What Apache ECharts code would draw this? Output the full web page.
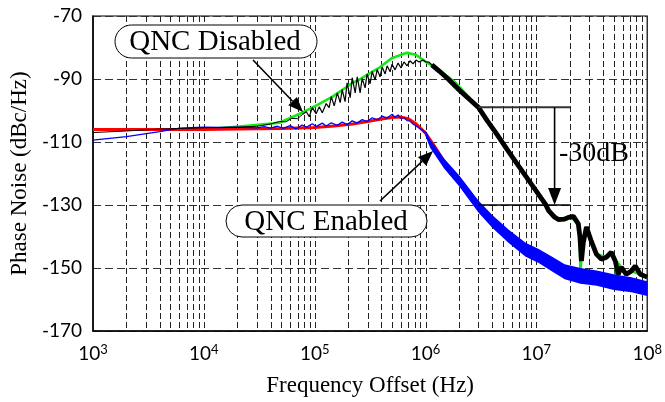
<!DOCTYPE html>
<html>
<head>
<meta charset="utf-8">
<script src="https://cdn.jsdelivr.net/npm/echarts@6/dist/echarts.min.js"></script>
<style>
html, body { margin: 0; padding: 0; background: #fff; }
#chart { width: 665px; height: 402px; }
</style>
</head>
<body>
<div id="chart"></div>
<script>
// QNC enabled, smooth model (red)
const redF  = [1e3, 3e3, 1e4, 2e4, 5e4, 1e5, 1.5e5, 2.2e5, 3e5, 4e5, 5e5, 6e5, 7e5, 8.2e5, 1e6, 1.2e6, 1.5e6, 2e6, 3e6];
const redDb = [-106, -106, -106, -105.9, -105.7, -105.4, -104.9, -104.3, -103.5, -102.7, -102.2, -102.1, -102.6, -104.2, -107.2, -111.2, -116.6, -122.4, -130.5];

// QNC disabled, smooth model (green)
const greenF  = [1e3, 1e4, 2.1e4, 4.8e4, 7.7e4, 1.05e5, 1.45e5, 2.2e5, 2.5e5, 3.8e5, 5e5, 6.8e5, 8.2e5, 1e6, 1.32e6, 1.87e6, 3e6, 4.3e6, 6.9e6, 1.05e7, 1.29e7, 1.6e7, 2e7, 2.35e7, 2.45e7, 2.5e7, 2.56e7, 2.62e7, 2.83e7, 3.5e7, 4.3e7, 4.8e7, 5.15e7, 5.25e7, 5.35e7, 6.5e7, 7.2e7, 1e8];
const greenDb = [-106, -106, -105.1, -103.9, -100.7, -98.3, -95.6, -91.2, -90.3, -86.5, -83.3, -81.7, -82.3, -84.5, -87.1, -91.2, -99, -107, -117.6, -126.7, -131.8, -134.4, -133.8, -135.5, -138, -151.5, -151.5, -141, -137, -145.6, -146.6, -145, -147.8, -153, -148, -152, -151, -152.9];

// QNC enabled, measured (blue): thin part, then noise band
const blueF  = [1e3, 2e3, 4e3, 6e3, 1e4, 1.4e4, 2e4, 3e4, 3.5e4, 4e4, 4.6e4, 5.2e4, 6e4, 6.8e4, 7.7e4, 8.4e4, 9.5e4, 1.03e5, 1.17e5, 1.27e5, 1.41e5, 1.6e5, 1.77e5, 1.96e5, 2.18e5, 2.42e5, 2.68e5, 2.97e5, 3.3e5, 3.66e5, 4.06e5, 4.5e5, 5e5, 5.3e5, 5.65e5, 6e5, 6.4e5, 6.8e5, 7.2e5, 7.7e5, 8.2e5, 8.7e5, 9.5e5, 1e6];
const blueDb = [-109.4, -108.3, -106.7, -105.6, -105.3, -105.4, -105.3, -105.5, -105.1, -105.6, -105, -105.7, -104.8, -105.9, -104.6, -105.3, -104.2, -105.1, -104, -104.9, -103.9, -104.7, -103.7, -104.5, -103.3, -104, -102.9, -103.5, -102.3, -103, -101.8, -102.4, -101.2, -102.2, -101.4, -102.5, -102.2, -103.2, -103.3, -104.3, -104.9, -105.5, -106.3, -107.2];
const blueBandF  = [1.0e6, 1.1e6, 1.47e6, 2.0e6, 3.0e6, 4.0e6, 5.6e6, 8.0e6, 1.05e7, 1.4e7, 1.8e7, 2.5e7, 3.5e7, 5e7, 7.2e7, 1e8];
const blueBandHi = [-106.2, -109.2, -115.2, -120.5, -128.6, -133.2, -137.8, -142.0, -144.0, -146.5, -148.8, -150.0, -150.8, -152.0, -152.9, -154.2];
const blueBandLo = [-108.2, -111.8, -118.4, -124.0, -132.4, -137.2, -142.0, -146.4, -148.4, -151.2, -153.6, -155.0, -155.6, -157.0, -157.7, -158.9];

// QNC disabled, measured (black): thin start, spur region, noisy tail
const blackF1  = [1e3, 2e3, 4e3, 1e4, 2e4, 3e4, 4e4, 4.8e4, 5.5e4, 6.2e4, 7e4, 7.73e4];
const blackDb1 = [-107, -106.5, -105.9, -105.5, -105.3, -105, -104.3, -103.5, -103.6, -102.5, -102.6, -101.3];
const blackF2  = [7.73e4, 8.4e4, 8.94e4, 9.51e4, 1.03e5, 1.10e5, 1.17e5, 1.27e5, 1.35e5, 1.41e5, 1.50e5, 1.60e5, 1.70e5, 1.77e5, 1.88e5, 1.96e5, 2.09e5, 2.18e5, 2.32e5, 2.42e5, 2.57e5, 2.68e5, 2.85e5, 2.97e5, 3.16e5, 3.30e5, 3.51e5, 3.66e5, 3.89e5, 4.06e5, 4.32e5, 4.50e5, 4.79e5, 4.99e5, 5.31e5, 5.65e5, 6.01e5, 6.40e5, 6.81e5, 7.24e5, 7.71e5, 8.20e5, 8.73e5, 9.48e5, 1.01e6, 1.07e6, 1.14e6, 1.32e6];
const blackDb2 = [-101.3, -100.4, -102.0, -99.1, -101.0, -98.8, -100.7, -97.8, -99.1, -95.6, -98.5, -94.4, -97.5, -93.4, -97.2, -91.2, -95.9, -89.6, -94.4, -89.3, -94.4, -89.8, -92.8, -88.4, -91.5, -87.6, -90.3, -87.0, -89.3, -86.2, -88.4, -85.8, -87.7, -85.3, -87.1, -84.9, -86.5, -84.6, -85.8, -84.2, -85.2, -84.0, -84.6, -84.0, -84.6, -84.6, -85.5, -87.4];
const blackF3  = [1.14e6, 1.32e6, 1.6e6, 2.0e6, 2.5e6, 3.0e6, 3.6e6, 4.3e6, 5.5e6, 6.9e6, 8.5e6, 1.05e7, 1.21e7, 1.29e7, 1.45e7, 1.58e7, 1.8e7, 1.95e7, 2.16e7, 2.39e7, 2.47e7, 2.55e7, 2.65e7, 2.83e7, 3.13e7, 3.48e7, 3.85e7, 4.28e7, 4.74e7, 5.15e7, 5.48e7, 5.83e7, 6.47e7, 7.18e7, 7.8e7, 8.65e7, 1e8];
const blackDb3 = [-85.5, -87.4, -90, -93.4, -96.5, -99, -103.2, -107, -112.6, -117.6, -122.1, -126.7, -129.8, -131.8, -133.8, -134.6, -134.5, -133.9, -133.6, -136, -140, -147.8, -142, -137, -141.5, -145.6, -147.2, -146.6, -145, -147.8, -152, -149.7, -152, -151, -149.4, -152, -152.9];

// minor grid positions (2..9 x each decade, plus decades)
const gridF = [];
for (let d = 3; d < 8; d++) {
  for (let m = 1; m < 10; m++) {
    if (d === 3 && m === 1) continue;
    gridF.push(m * Math.pow(10, d));
  }
}

const pairs = (fs, vs) => fs.map((f, i) => [f, vs[i]]);

function lineSeries(fs, vs, color, width, z) {
  return {
    type: 'line',
    data: pairs(fs, vs),
    showSymbol: false,
    symbol: 'none',
    z: z,
    lineStyle: { color: color, width: width },
    silent: true
  };
}

function bandSeries(fs, hi, lo, color, z) {
  return {
    type: 'custom',
    z: z,
    clip: true,
    silent: true,
    data: fs.map((f, i) => [f, hi[i], lo[i]]),
    encode: { x: 0, y: [1, 2] },
    renderItem: function (params, api) {
      if (params.dataIndex !== 0) return;
      const pts = [];
      for (let i = 0; i < fs.length; i++) pts.push(api.coord([fs[i], hi[i]]));
      for (let i = fs.length - 1; i >= 0; i--) pts.push(api.coord([fs[i], lo[i]]));
      return { type: 'polygon', shape: { points: pts }, style: { fill: color } };
    }
  };
}

const chart = echarts.init(document.getElementById('chart'));

chart.setOption({
  animation: false,
  backgroundColor: '#fff',
  grid: { left: 93, right: 16, top: 16, bottom: 70, show: true, borderColor: '#000', borderWidth: 1.2 },
  xAxis: {
    type: 'log',
    logBase: 10,
    min: 1e3,
    max: 1e8,
    splitNumber: 5,
    name: 'Frequency Offset (Hz)',
    nameLocation: 'middle',
    nameGap: 43,
    nameTextStyle: { fontFamily: 'Liberation Serif', fontSize: 23, color: '#000' },
    axisLine: { show: true, lineStyle: { color: '#000', width: 1.5 } },
    axisTick: { show: false },
    splitLine: { show: false },
    axisLabel: {
      margin: 12,
      formatter: function (v) {
        return '{b|10}{s|' + Math.round(Math.log10(v)) + '}';
      },
      rich: {
        b: { fontFamily: 'Lato', fontSize: 19, color: '#000' },
        s: { fontFamily: 'Lato', fontSize: 13, color: '#000', padding: [0, 0, 9, 0] }
      }
    }
  },
  yAxis: {
    type: 'value',
    min: -170,
    max: -70,
    interval: 20,
    name: 'Phase Noise (dBc/Hz)',
    nameLocation: 'middle',
    nameGap: 59,
    nameTextStyle: { fontFamily: 'Liberation Serif', fontSize: 23, color: '#000' },
    axisLine: { show: true, lineStyle: { color: '#000', width: 1.5 } },
    axisTick: { show: false },
    axisLabel: { fontFamily: 'Lato', fontSize: 19, color: '#000', margin: 11 },
    splitLine: { show: true, lineStyle: { color: '#333', width: 1, type: [8, 4] } }
  },
  series: [
    {
      type: 'custom',
      z: 1,
      silent: true,
      data: gridF.map(f => [f]),
      encode: { x: 0 },
      renderItem: function (params, api) {
        const f = api.value(0);
        const a = api.coord([f, -70]);
        const b = api.coord([f, -170]);
        return {
          type: 'line',
          shape: { x1: Math.round(a[0]) + 0.5, y1: a[1], x2: Math.round(b[0]) + 0.5, y2: b[1] },
          style: { stroke: '#222', lineWidth: 1, lineDash: [6, 3] }
        };
      }
    },
    lineSeries(greenF, greenDb, '#15e815', 2.6, 2),
    lineSeries(redF, redDb, '#ff0000', 3, 3),
    lineSeries(blueF, blueDb, '#0000ff', 1.3, 4),
    bandSeries(blueBandF, blueBandHi, blueBandLo, '#0000ff', 4),
    lineSeries(blackF1, blackDb1, '#000', 1, 5),
    lineSeries(blackF2, blackDb2, '#000', 1.2, 5),
    lineSeries(blackF3, blackDb3, '#000', 4.8, 5)
  ]
});

// annotations
function arrow(x1, y1, x2, y2, len, half) {
  const dx = x2 - x1, dy = y2 - y1;
  const l = Math.sqrt(dx * dx + dy * dy);
  const ux = dx / l, uy = dy / l;
  const bx = x2 - ux * len, by = y2 - uy * len;
  return [
    { type: 'line', z: 20, shape: { x1: x1, y1: y1, x2: bx, y2: by }, style: { stroke: '#000', lineWidth: 1.6 } },
    { type: 'polygon', z: 20, shape: { points: [[x2, y2], [bx - uy * half, by + ux * half], [bx + uy * half, by - ux * half]] }, style: { fill: '#000' } }
  ];
}

const px = (f, v) => chart.convertToPixel({ gridIndex: 0 }, [f, v]);
const topL = px(3.0e6, -99), topR = px(2.04e7, -99);
const botL = px(3.0e6, -130), botR = px(2.04e7, -130);
const arrTop = px(1.46e7, -99), arrBot = px(1.46e7, -130);
const lbl = px(1.6e7, -113.6);

const graphic = [
  { type: 'rect', z: 20, shape: { x: 115, y: 25, width: 202, height: 33, r: 16.5 }, style: { fill: '#fff', stroke: '#000', lineWidth: 1 } },
  { type: 'text', z: 21, style: { text: 'QNC Disabled', x: 215, y: 42, align: 'center', verticalAlign: 'middle', font: '29px "Liberation Serif"', fill: '#000' } },
  { type: 'rect', z: 20, shape: { x: 226, y: 205, width: 201, height: 32, r: 16 }, style: { fill: '#fff', stroke: '#000', lineWidth: 1 } },
  { type: 'text', z: 21, style: { text: 'QNC Enabled', x: 326, y: 222, align: 'center', verticalAlign: 'middle', font: '29px "Liberation Serif"', fill: '#000' } },
  { type: 'line', z: 20, shape: { x1: topL[0], y1: topL[1], x2: topR[0], y2: topR[1] }, style: { stroke: '#333', lineWidth: 2 } },
  { type: 'line', z: 20, shape: { x1: botL[0], y1: botL[1], x2: botR[0], y2: botR[1] }, style: { stroke: '#000', lineWidth: 1.5 } },
  { type: 'text', z: 21, style: { text: '-30dB', x: lbl[0], y: lbl[1], align: 'left', verticalAlign: 'middle', font: '28px "Liberation Serif"', fill: '#000' } }
]
  .concat(arrow(253, 60, 303, 112, 15, 6))
  .concat(arrow(380, 201, 433, 151, 15, 6))
  .concat(arrow(arrTop[0], arrTop[1], arrBot[0], arrBot[1], 17, 6.5));

chart.setOption({ graphic: graphic });
</script>
</body>
</html>
